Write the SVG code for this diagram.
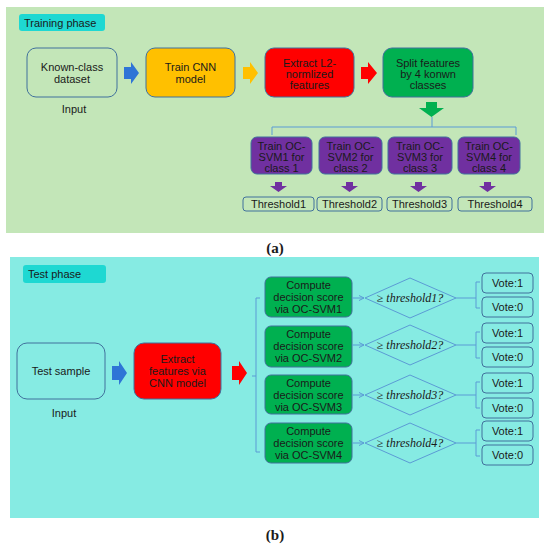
<svg xmlns="http://www.w3.org/2000/svg" width="550" height="547" viewBox="0 0 550 547">
<style>
text{font-family:"Liberation Sans",Arial,sans-serif;font-size:11px;fill:#1a1a1a;text-anchor:middle}
.node{stroke:#41719C;stroke-width:1}
.lbl{fill:#1ED8D2}
.conn{fill:none;stroke:#5B9BD5;stroke-width:1}
.math{font-family:"Liberation Serif","DejaVu Serif",serif;font-size:12px}
.cap{font-family:"Liberation Serif",serif;font-size:15px;font-weight:bold}
</style>
<defs>
<marker id="ah" viewBox="0 0 6 6" refX="5" refY="3" markerWidth="6" markerHeight="6" orient="auto">
<path d="M0,0.5 L5,3 L0,5.5" fill="none" stroke="#5B9BD5" stroke-width="1"/>
</marker>
</defs>
<rect width="550" height="547" fill="#ffffff"/>
<!-- Panel a -->
<rect x="6" y="7" width="538" height="226" fill="#C3E6B8"/>
<g id="train-label"><rect x="19" y="14" width="86" height="17" rx="3" class="lbl"/><text x="24" y="26.5" style="text-anchor:start">Training phase</text></g>
<g id="known"><rect x="27" y="48" width="90" height="49" rx="9" fill="#C3E6B8" class="node"/><text x="72" y="71">Known-class</text><text x="72" y="83">dataset</text></g>
<text x="74" y="113">Input</text>
<g id="cnn"><rect x="146" y="48" width="89" height="49" rx="9" fill="#FFC000" class="node"/><text x="190.5" y="71">Train CNN</text><text x="190.5" y="83">model</text></g>
<g id="extract"><rect x="265" y="48" width="89" height="49" rx="9" fill="#FF0000" class="node"/><text x="309.5" y="67">Extract L2-</text><text x="309.5" y="78">normlized</text><text x="309.5" y="89">features</text></g>
<g id="split"><rect x="383" y="48" width="90" height="49" rx="9" fill="#00B050" class="node"/><text x="428" y="67">Split features</text><text x="428" y="78">by 4 konwn</text><text x="428" y="89">classes</text></g>
<g id="svm1"><rect x="251" y="137" width="61" height="37" rx="6" fill="#7030A0" class="node"/><text x="281.5" y="150">Train OC-</text><text x="281.5" y="161">SVM1 for</text><text x="281.5" y="172">class 1</text></g>
<g id="svm2"><rect x="319" y="137" width="63" height="37" rx="6" fill="#7030A0" class="node"/><text x="350.5" y="150">Train OC-</text><text x="350.5" y="161">SVM2 for</text><text x="350.5" y="172">class 2</text></g>
<g id="svm3"><rect x="388" y="137" width="64" height="37" rx="6" fill="#7030A0" class="node"/><text x="420" y="150">Train OC-</text><text x="420" y="161">SVM3 for</text><text x="420" y="172">class 3</text></g>
<g id="svm4"><rect x="458" y="137" width="62" height="37" rx="6" fill="#7030A0" class="node"/><text x="489" y="150">Train OC-</text><text x="489" y="161">SVM4 for</text><text x="489" y="172">class 4</text></g>
<g id="th1"><rect x="243" y="197" width="71" height="14" rx="3" fill="#C3E6B8" class="node"/><text x="278.5" y="208">Threshold1</text></g>
<g id="th2"><rect x="317" y="197" width="65" height="14" rx="3" fill="#C3E6B8" class="node"/><text x="349.5" y="208">Threshold2</text></g>
<g id="th3"><rect x="387" y="197" width="65" height="14" rx="3" fill="#C3E6B8" class="node"/><text x="419.5" y="208">Threshold3</text></g>
<g id="th4"><rect x="458" y="197" width="74" height="14" rx="3" fill="#C3E6B8" class="node"/><text x="495" y="208">Threshold4</text></g>
<text class="cap" x="275" y="253">(a)</text>
<!-- Panel b -->
<rect x="10" y="257" width="529" height="261" fill="#86EBE3"/>
<g id="test-label"><rect x="23" y="265" width="83" height="18" rx="3" class="lbl"/><text x="28" y="278" style="text-anchor:start">Test phase</text></g>
<g id="sample"><rect x="17" y="343" width="88" height="56" rx="10" fill="#86EBE3" class="node"/><text x="61" y="375">Test sample</text></g>
<text x="64" y="417">Input</text>
<g id="extract2"><rect x="134" y="343" width="87" height="56" rx="10" fill="#FF0000" class="node"/><text x="177.5" y="363">Extract</text><text x="177.5" y="375">features via</text><text x="177.5" y="387">CNN model</text></g>
<g id="cs1"><rect x="265" y="277" width="87" height="40" rx="6" fill="#00B050" class="node"/><text x="308.5" y="289">Compute</text><text x="308.5" y="301">decision score</text><text x="308.5" y="313">via OC-SVM1</text></g>
<g id="cs2"><rect x="265" y="326" width="87" height="41" rx="6" fill="#00B050" class="node"/><text x="308.5" y="338">Compute</text><text x="308.5" y="350">decision score</text><text x="308.5" y="362">via OC-SVM2</text></g>
<g id="cs3"><rect x="265" y="375" width="87" height="39" rx="6" fill="#00B050" class="node"/><text x="308.5" y="387">Compute</text><text x="308.5" y="399">decision score</text><text x="308.5" y="411">via OC-SVM3</text></g>
<g id="cs4"><rect x="265" y="423" width="87" height="40" rx="6" fill="#00B050" class="node"/><text x="308.5" y="435">Compute</text><text x="308.5" y="447">decision score</text><text x="308.5" y="459">via OC-SVM4</text></g>
<g id="d1"><path d="M410,278 L456,298 L410,318 L365,298 Z" fill="none" stroke="#5B9BD5"/><text class="math" x="410" y="302">≥ <tspan font-style="italic">threshold1?</tspan></text></g>
<g id="d2"><path d="M410,325 L456,345 L410,365 L365,345 Z" fill="none" stroke="#5B9BD5"/><text class="math" x="410" y="349">≥ <tspan font-style="italic">threshold2?</tspan></text></g>
<g id="d3"><path d="M410,375 L456,395 L410,415 L365,395 Z" fill="none" stroke="#5B9BD5"/><text class="math" x="410" y="399">≥ <tspan font-style="italic">threshold3?</tspan></text></g>
<g id="d4"><path d="M410,423 L456,443 L410,463 L365,443 Z" fill="none" stroke="#5B9BD5"/><text class="math" x="410" y="447">≥ <tspan font-style="italic">threshold4?</tspan></text></g>
<g id="v1a"><rect x="482" y="273" width="51" height="20" rx="4" fill="#86EBE3" class="node"/><text x="507.5" y="287">Vote:1</text></g>
<g id="v1b"><rect x="482" y="297" width="51" height="20" rx="4" fill="#86EBE3" class="node"/><text x="507.5" y="311">Vote:0</text></g>
<g id="v2a"><rect x="482" y="323" width="51" height="20" rx="4" fill="#86EBE3" class="node"/><text x="507.5" y="337">Vote:1</text></g>
<g id="v2b"><rect x="482" y="347" width="51" height="20" rx="4" fill="#86EBE3" class="node"/><text x="507.5" y="361">Vote:0</text></g>
<g id="v3a"><rect x="482" y="373" width="51" height="20" rx="4" fill="#86EBE3" class="node"/><text x="507.5" y="387">Vote:1</text></g>
<g id="v3b"><rect x="482" y="398" width="51" height="20" rx="4" fill="#86EBE3" class="node"/><text x="507.5" y="412">Vote:0</text></g>
<g id="v4a"><rect x="482" y="421" width="51" height="20" rx="4" fill="#86EBE3" class="node"/><text x="507.5" y="435">Vote:1</text></g>
<g id="v4b"><rect x="482" y="445" width="51" height="20" rx="4" fill="#86EBE3" class="node"/><text x="507.5" y="459">Vote:0</text></g>
<text class="cap" x="275" y="540">(b)</text>
<g id="connectors">
<!-- block arrows panel a -->
<path d="M124,67 L131,67 L131,62 L139,73 L131,84 L131,79 L124,79 Z" fill="#2E75D6"/>
<path d="M243,67 L250,67 L250,62 L258,73 L250,84 L250,79 L243,79 Z" fill="#FFC000"/>
<path d="M361,67 L368,67 L368,62 L377,73 L368,84 L368,79 L361,79 Z" fill="#FF0000"/>
<path d="M426,102 L437,102 L437,108 L444,108 L431.5,117 L419,108 L426,108 Z" fill="#00B050"/>
<path class="conn" d="M432,117 L432,127 M272,135 L272,127 L516,127 L516,135"/>
<path d="M275,182 L282,182 L282,186 L287,186 L278.5,192 L270,186 L275,186 Z" fill="#7030A0"/>
<path d="M346,182 L353,182 L353,186 L358,186 L349.5,192 L341,186 L346,186 Z" fill="#7030A0"/>
<path d="M415,182 L422,182 L422,186 L427,186 L418.5,192 L410,186 L415,186 Z" fill="#7030A0"/>
<path d="M484,182 L491,182 L491,186 L496,186 L487.5,192 L479,186 L484,186 Z" fill="#7030A0"/>
<!-- block arrows panel b -->
<path d="M112,366 L119,366 L119,361 L127,373 L119,385 L119,380 L112,380 Z" fill="#2E75D6"/>
<path d="M232,366 L239,366 L239,361 L247,373 L239,385 L239,380 L232,380 Z" fill="#FF0000"/>
<path class="conn" d="M252,376 L256,376 M260,298 L256,298 L256,452 L260,452"/>
<path class="conn" d="M352,298 L364,298" marker-end="url(#ah)"/>
<path class="conn" d="M352,345 L364,345" marker-end="url(#ah)"/>
<path class="conn" d="M352,395 L364,395" marker-end="url(#ah)"/>
<path class="conn" d="M352,443 L364,443" marker-end="url(#ah)"/>
<path class="conn" d="M456,298 L476,298 M480,282 L476,282 L476,308 L480,308"/>
<path class="conn" d="M456,345 L476,345 M480,332 L476,332 L476,358 L480,358"/>
<path class="conn" d="M456,395 L476,395 M480,382 L476,382 L476,408 L480,408"/>
<path class="conn" d="M456,443 L476,443 M480,430 L476,430 L476,456 L480,456"/>
</g>
</svg>
